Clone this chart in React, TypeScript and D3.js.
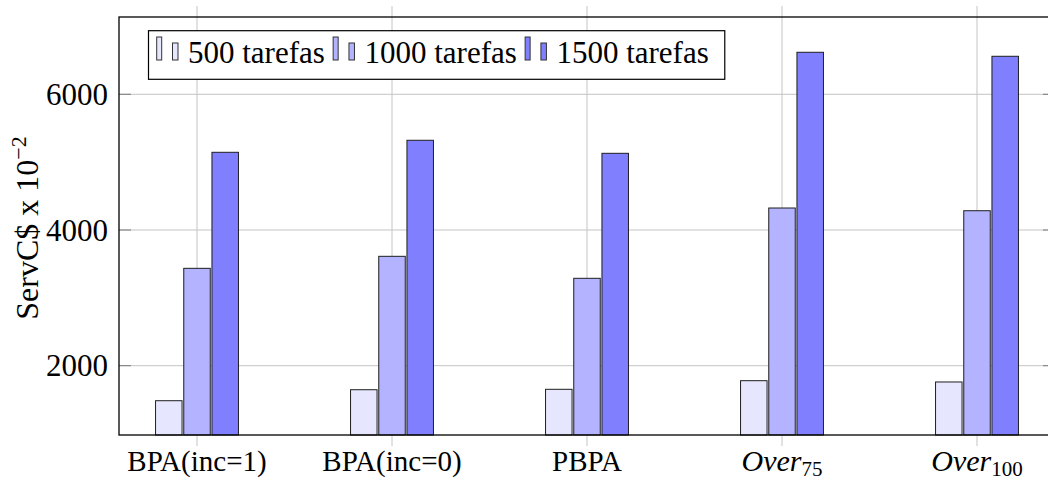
import React, { useEffect, useRef } from "react";
import * as d3 from "d3";

// Algorithms on the x axis ("_" marks a subscript in the label)
const categories = ["BPA(inc=1)", "BPA(inc=0)", "PBPA", "Over_75", "Over_100"];

// Cost (ServC$ x 10^-2) per algorithm, one array per workload size
const tarefas500 = [1484, 1646, 1652, 1779, 1760];
const tarefas1000 = [3435, 3612, 3288, 4324, 4284];
const tarefas1500 = [5145, 5322, 5130, 6619, 6560];

const seriesNames = ["500 tarefas", "1000 tarefas", "1500 tarefas"];
const seriesFills = ["#e6e6ff", "#b3b3ff", "#8080ff"];

const yTicks = [2000, 4000, 6000];
const yDomain = [978.6, 7139];

const W = 1048;
const H = 483;
const frame = { left: 119, right: 1055, top: 17, bottom: 435 };
const SERIF = "'Liberation Serif', 'Times New Roman', serif";

export default function App() {
  const ref = useRef<SVGSVGElement>(null);

  useEffect(() => {
    const svg = d3.select(ref.current);
    svg.selectAll("*").remove();

    const x = d3
      .scalePoint<string>()
      .domain(categories)
      .range([frame.left, frame.right])
      .padding(0.4);
    const y = d3.scaleLinear().domain(yDomain).range([frame.bottom, frame.top]);

    const series = [tarefas500, tarefas1000, tarefas1500].map((values, i) => ({
      name: seriesNames[i],
      fill: seriesFills[i],
      values,
    }));

    const barWidth = 26.5;
    const barStep = 28.2;

    // grid
    const grid = svg.append("g").attr("stroke", "#c4c4c4").attr("stroke-width", 1);
    grid
      .selectAll("line.h")
      .data(yTicks)
      .join("line")
      .attr("class", "h")
      .attr("x1", frame.left)
      .attr("x2", frame.right)
      .attr("y1", (d) => y(d))
      .attr("y2", (d) => y(d));
    grid
      .selectAll("line.v")
      .data(categories)
      .join("line")
      .attr("class", "v")
      .attr("x1", (d) => x(d)!)
      .attr("x2", (d) => x(d)!)
      .attr("y1", frame.top - 11)
      .attr("y2", frame.bottom + 11);

    // bars
    series.forEach((s, si) => {
      svg
        .append("g")
        .selectAll("rect")
        .data(s.values)
        .join("rect")
        .attr("x", (_, i) => x(categories[i])! + (si - 1) * barStep - barWidth / 2)
        .attr("y", (d) => y(d))
        .attr("width", barWidth)
        .attr("height", (d) => y(yDomain[0]) - y(d))
        .attr("fill", s.fill)
        .attr("stroke", "#1e1e1e")
        .attr("stroke-width", 1);
    });

    // y tick stubs (inside on both sides)
    const stubs = svg.append("g").attr("stroke", "#7a7a7a").attr("stroke-width", 1);
    yTicks.forEach((t) => {
      stubs.append("line").attr("x1", frame.left).attr("x2", frame.left + 12).attr("y1", y(t)).attr("y2", y(t));
      stubs.append("line").attr("x1", frame.right - 12).attr("x2", frame.right).attr("y1", y(t)).attr("y2", y(t));
    });

    // frame
    svg
      .append("rect")
      .attr("x", frame.left)
      .attr("y", frame.top)
      .attr("width", frame.right - frame.left)
      .attr("height", frame.bottom - frame.top)
      .attr("fill", "none")
      .attr("stroke", "#000")
      .attr("stroke-width", 1.3);

    // y tick labels
    svg
      .append("g")
      .selectAll("text")
      .data(yTicks)
      .join("text")
      .attr("x", 108)
      .attr("y", (d) => y(d))
      .attr("dy", "0.34em")
      .attr("text-anchor", "end")
      .attr("font-family", SERIF)
      .attr("font-size", 31)
      .attr("fill", "#000")
      .text((d) => String(d));

    // x labels
    categories.forEach((c) => {
      const t = svg
        .append("text")
        .attr("x", x(c)!)
        .attr("y", 471)
        .attr("text-anchor", "middle")
        .attr("font-family", SERIF)
        .attr("font-size", 29)
        .attr("fill", "#000");
      const parts = c.split("_");
      if (parts.length === 2) {
        t.append("tspan").attr("font-style", "italic").attr("font-size", 30).text(parts[0]);
        t.append("tspan").attr("font-size", 21).attr("dy", 4.5).text(parts[1]);
      } else {
        t.text(c);
      }
    });

    // y axis title
    const yl = svg
      .append("text")
      .attr("transform", "translate(38,228) rotate(-90)")
      .attr("text-anchor", "middle")
      .attr("font-family", SERIF)
      .attr("font-size", 32)
      .attr("fill", "#000");
    yl.append("tspan").text("ServC$ x 10");
    yl.append("tspan").attr("font-size", 22).attr("dy", -12).text("\u22122");

    // legend
    const lg = svg.append("g");
    const box = lg
      .append("rect")
      .attr("x", 148.5)
      .attr("y", 30.7)
      .attr("height", 48.6)
      .attr("fill", "#fff")
      .attr("stroke", "#000")
      .attr("stroke-width", 1.2);
    let cursor = 156.7;
    series.forEach((s) => {
      lg.append("rect")
        .attr("x", cursor)
        .attr("y", 37)
        .attr("width", 5)
        .attr("height", 23)
        .attr("fill", s.fill)
        .attr("stroke", "#333")
        .attr("stroke-width", 1);
      lg.append("rect")
        .attr("x", cursor + 15.8)
        .attr("y", 43)
        .attr("width", 5.5)
        .attr("height", 17)
        .attr("fill", s.fill)
        .attr("stroke", "#333")
        .attr("stroke-width", 1);
      const txt = lg
        .append("text")
        .attr("x", cursor + 31.3)
        .attr("y", 62.5)
        .attr("font-family", SERIF)
        .attr("font-size", 31)
        .attr("fill", "#000")
        .text(s.name);
      const len = (txt.node() as SVGTextElement).getComputedTextLength();
      cursor = cursor + 31.3 + len + 8.3;
    });
    box.attr("width", cursor - 8.3 + 16 - 148.5);
  }, []);

  return (
    <svg
      ref={ref}
      width={W}
      height={H}
      style={{ position: "absolute", left: 0, top: 0, background: "#fff" }}
    />
  );
}
